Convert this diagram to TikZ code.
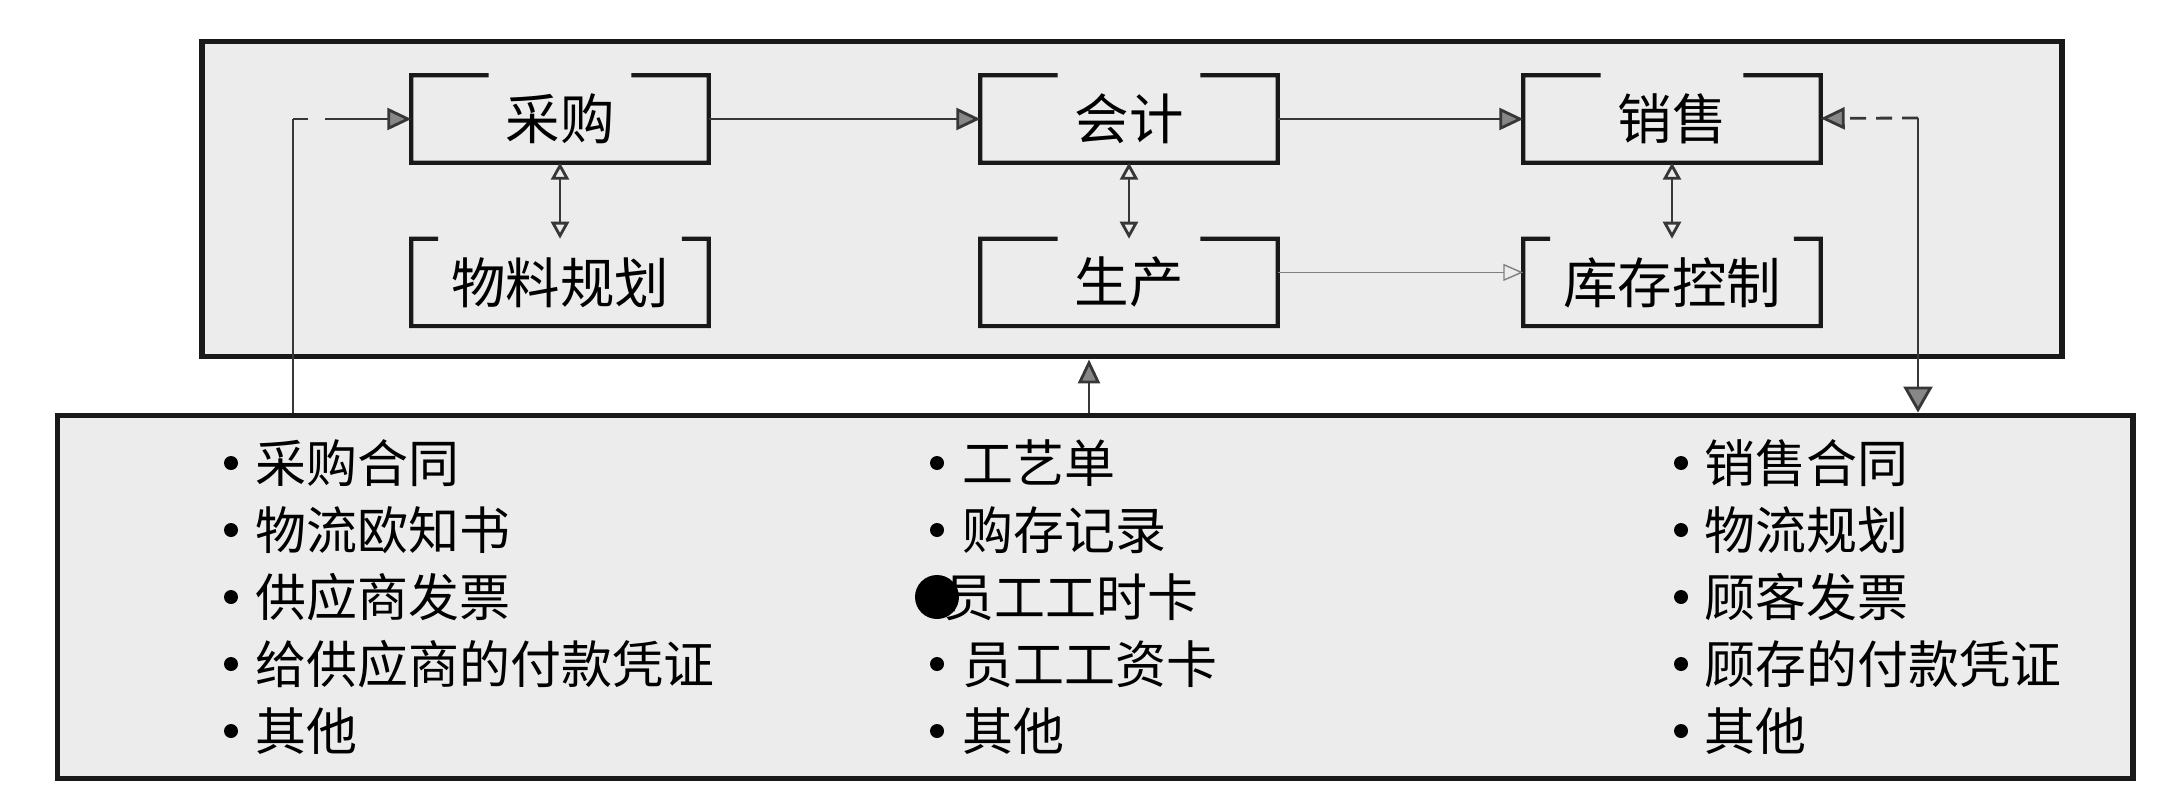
\documentclass[tikz,border=0pt]{standalone}
\usepackage{fontspec}
\setmainfont{Noto Sans CJK SC}
\usetikzlibrary{arrows.meta,positioning,calc}
\definecolor{kasten}{RGB}{236,236,236}
\definecolor{strich}{RGB}{25,25,25}
\definecolor{verbind}{RGB}{55,55,55}
\definecolor{spitze}{RGB}{135,135,135}

\begin{document}
\begin{tikzpicture}[x=0.1mm,y=-0.1mm,
    rahmen/.style={draw=strich,line width=1.7pt,fill=kasten,inner sep=0pt},
    modul/.style={minimum width=29.6mm,minimum height=8.6mm,inner sep=0pt,
      font=\fontsize{15.5}{18}\selectfont},
    klammer/.style={draw=strich,line width=1.2pt},
    linie/.style={draw=verbind,line width=0.8pt},
    fluss/.style={linie,-{Triangle[length=2.4mm,width=2.2mm,fill=spitze]}},
    wechsel/.style={linie,{Triangle[open,length=1.7mm,width=1.8mm]}-{Triangle[open,length=1.7mm,width=1.8mm]}},
    posten/.style={anchor=west,inner sep=0pt,font=\fontsize{14.5}{17}\selectfont}]
  \fill[white] (0,0) rectangle (2160,796);
  \useasboundingbox (0,0) rectangle (2160,796);

  % the two frames
  \node[rahmen,minimum width=186mm,minimum height=31.5mm] (erp) at (1132,199) {};
  \node[rahmen,minimum width=207.5mm,minimum height=36.3mm] (belege) at (1095,597) {};

  % modules
  \node[modul] (cg) at (560,119) {采购};
  \node[modul] (kj) at (1129,119) {会计};
  \node[modul] (xs) at (1672,119) {销售};
  \node[modul,below=7.6mm of cg] (wl) {物料规划};
  \node[modul,below=7.6mm of kj] (sc) {生产};
  \node[modul,below=7.6mm of xs] (kc) {库存控制};
  \foreach \n/\f in {cg/0.26,kj/0.26,xs/0.26,sc/0.26,wl/0.09,kc/0.09}
    \draw[klammer] ($(\n.north west)!\f!(\n.north east)$) -- (\n.north west)
      -- (\n.south west) -- (\n.south east) -- (\n.north east)
      -- ($(\n.north east)!\f!(\n.north west)$);

  % flows between modules
  \draw[fluss] (cg) -- (kj);
  \draw[fluss] (kj) -- (xs);
  \draw[draw=gray,line width=0.4pt,-{Triangle[open,length=2mm,width=1.7mm]}]
    ([yshift=1mm]sc.east) -- ([yshift=1mm]kc.west);
  \draw[wechsel] (cg) -- (wl);
  \draw[wechsel] (kj) -- (sc);
  \draw[wechsel] (xs) -- (kc);

  % links to the documents
  \coordinate (eing) at (293,119);
  \coordinate (auf) at (1089,0);
  \coordinate (ausg) at (1918,118);
  \draw[linie] (belege.north -| eing) -- (eing);
  \draw[fluss,dash pattern=on 1.5mm off 1.7mm on 12mm off 1mm] (eing) -- (cg);
  \draw[fluss] (belege.north -| auf) -- (erp.south -| auf);
  \draw[fluss,dash pattern=on 1.6mm off 1mm] (ausg) -- (xs);
  \draw[linie,-{Triangle[length=2.6mm,width=2.9mm,fill=spitze]}] (ausg) -- (belege.north -| ausg);

  % document lists
  \foreach \t [count=\i] in {采购合同,物流欧知书,供应商发票,给供应商的付款凭证,其他}{
    \node[posten] (a\i) at (255,396+67*\i) {\t};
    \fill (231,396+67*\i) circle (0.7mm);
  }
  \foreach \t/\x [count=\i] in {工艺单/962,购存记录/962,员工工时卡/943,员工工资卡/962,其他/962}{
    \node[posten] (m\i) at (\x,396+67*\i) {\t};
    \fill (937,396+67*\i) circle (0.7mm);
  }
  \fill ([xshift=-0.6mm]m3.west) circle (2.2mm);
  \foreach \t [count=\i] in {销售合同,物流规划,顾客发票,顾存的付款凭证,其他}{
    \node[posten] (r\i) at (1704,396+67*\i) {\t};
    \fill (1681,396+67*\i) circle (0.7mm);
  }
\end{tikzpicture}
\end{document}
